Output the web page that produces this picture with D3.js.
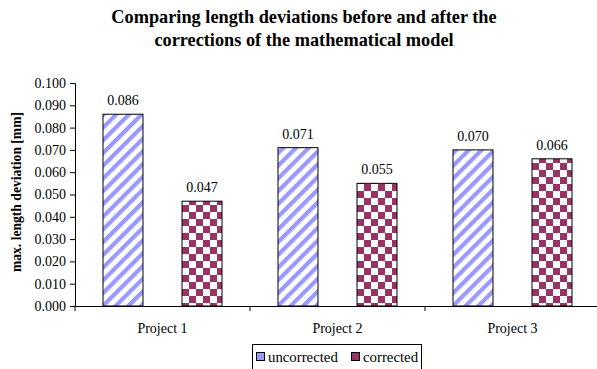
<!DOCTYPE html>
<html><head><meta charset="utf-8">
<script src="https://cdn.jsdelivr.net/npm/d3@7/dist/d3.min.js"></script>
<style>body{margin:0;background:#fff}svg{display:block}text{font-family:"Liberation Serif","Times New Roman",serif;fill:#000}</style>
</head><body>
<script>
const categories = ["Project 1", "Project 2", "Project 3"];
const seriesNames = ["uncorrected", "corrected"];
const uncorrected = [0.086, 0.071, 0.070];
const corrected = [0.047, 0.055, 0.066];
const yTicks = [0, 0.01, 0.02, 0.03, 0.04, 0.05, 0.06, 0.07, 0.08, 0.09, 0.1];
const titleLines = ["Comparing length deviations before and after the", "corrections of the mathematical model"];
const yLabel = "max. length deviation [mm]";

const W = 597, H = 369;
const svg = d3.select("body").append("svg").attr("width", W).attr("height", H);
const defs = svg.append("defs");
const stripe = defs.append("pattern").attr("id", "stripe").attr("patternUnits", "userSpaceOnUse")
  .attr("width", 9).attr("height", 9).attr("patternTransform", "rotate(45)");
stripe.append("rect").attr("width", 9).attr("height", 9).attr("fill", "#fff");
stripe.append("rect").attr("width", 4.2).attr("height", 9).attr("fill", "#9999ff");
const check = defs.append("pattern").attr("id", "check").attr("patternUnits", "userSpaceOnUse")
  .attr("width", 14).attr("height", 14).attr("x", 2).attr("y", 2);
check.append("rect").attr("width", 14).attr("height", 14).attr("fill", "#fff");
check.append("rect").attr("width", 7).attr("height", 7).attr("fill", "#993366");
check.append("rect").attr("x", 7).attr("y", 7).attr("width", 7).attr("height", 7).attr("fill", "#993366");
const fills = {uncorrected: "url(#stripe)", corrected: "url(#check)"};

const x0 = d3.scaleBand().domain(categories).range([75, 600]);
const x1 = d3.scaleBand().domain(seriesNames).range([28, 147]).paddingInner(0.494);
const y = d3.scaleLinear().domain([0, 0.1]).range([306, 83]);

// title
svg.append("g").selectAll("text").data(titleLines).join("text")
  .attr("x", 304).attr("y", (d, i) => 23 + i * 23).attr("text-anchor", "middle")
  .attr("font-size", 18.3).attr("font-weight", "bold").text(d => d);

// y axis
const yAxis = svg.append("g").attr("transform", "translate(75,0)")
  .call(d3.axisLeft(y).tickValues(yTicks).tickFormat(d3.format(".3f")).tickSizeOuter(0).tickSize(5).tickPadding(4));
yAxis.select(".domain").attr("stroke", "#000");
yAxis.selectAll(".tick line").attr("stroke", "#000");
yAxis.selectAll("text").attr("font-size", 14).attr("font-family", "Liberation Serif");

// x axis
const xAxis = svg.append("g").attr("transform", "translate(0,306)")
  .call(d3.axisBottom(x0).tickSize(0).tickSizeOuter(0).tickPadding(17));
xAxis.select(".domain").attr("stroke", "#000");
xAxis.selectAll("text").attr("font-size", 14).attr("font-family", "Liberation Serif");
const bounds = categories.map(c => x0(c)).concat([x0.range()[1]]);
svg.append("g").selectAll("line").data(bounds.slice(0, 3)).join("line")
  .attr("x1", d => d).attr("x2", d => d).attr("y1", 306).attr("y2", 311).attr("stroke", "#000");

// bars
const data = categories.map((c, i) => ({cat: c, vals: [{s: "uncorrected", v: uncorrected[i]}, {s: "corrected", v: corrected[i]}]}));
const g = svg.append("g").selectAll("g").data(data).join("g").attr("transform", d => `translate(${x0(d.cat)},0)`);
g.selectAll("rect").data(d => d.vals).join("rect")
  .attr("x", d => x1(d.s)).attr("width", x1.bandwidth())
  .attr("y", d => y(d.v)).attr("height", d => y(0) - y(d.v))
  .attr("fill", d => fills[d.s]).attr("stroke", "#000").attr("stroke-width", 1);
g.selectAll("text").data(d => d.vals).join("text")
  .attr("x", d => x1(d.s) + x1.bandwidth() / 2).attr("y", d => y(d.v) - 9)
  .attr("text-anchor", "middle").attr("font-size", 14).text(d => d3.format(".3f")(d.v));

// y label
svg.append("text").attr("transform", "translate(21,192) rotate(-90)").attr("text-anchor", "middle")
  .attr("font-size", 13.6).attr("font-weight", "bold").text(yLabel);

// legend
const lg = svg.append("g");
lg.append("rect").attr("x", 252.5).attr("y", 344.5).attr("width", 169).attr("height", 30)
  .attr("fill", "#fff").attr("stroke", "#000");
const lx = [256, 351];
seriesNames.forEach((s, i) => {
  lg.append("rect").attr("x", lx[i] + 0.5).attr("y", 352.5).attr("width", 8).attr("height", 8)
    .attr("fill", s === "uncorrected" ? "#9999ff" : "#993366").attr("stroke", "#000");
  lg.append("text").attr("x", lx[i] + 12).attr("y", 362).attr("font-size", 14.8).text(s);
});
</script>
</body></html>
